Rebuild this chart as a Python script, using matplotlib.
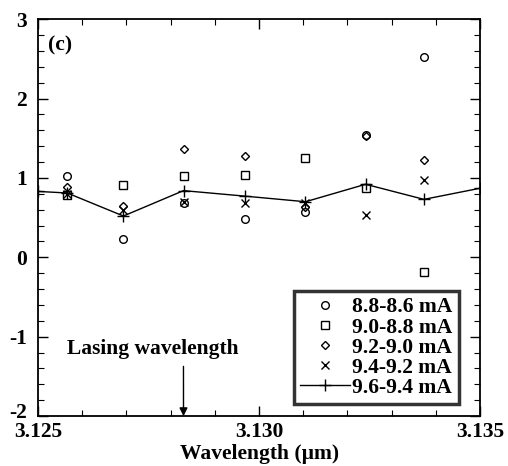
import matplotlib
matplotlib.use("Agg")
import matplotlib.pyplot as plt
import matplotlib.transforms as mtransforms
from matplotlib.ticker import MultipleLocator
import numpy as np

plt.rcParams["font.family"] = ["Liberation Serif", "DejaVu Serif"]
plt.rcParams["font.weight"] = "bold"
plt.rcParams["axes.unicode_minus"] = False

# ─── Data ────────────────────────────────────────────────────
wl = [3.12566, 3.12693, 3.12829, 3.12969, 3.13105, 3.13241, 3.13373]

s_88_86 = [1.03, 0.23, 0.69, 0.48, 0.57, 1.54, 2.52]
s_90_88 = [0.78, 0.91, 1.03, 1.04, 1.25, 0.87, -0.18]
s_92_90 = [0.88, 0.65, 1.37, 1.27, 0.63, 1.53, 1.23]
s_94_92 = [0.80, 0.60, 0.70, 0.69, 0.68, 0.53, 0.97]

line_wl = [3.1250, 3.12566, 3.12693, 3.12829, 3.12969, 3.13105, 3.13241, 3.13373, 3.1350]
s_96_94 = [0.83, 0.81, 0.52, 0.84, 0.77, 0.70, 0.92, 0.73, 0.87]

labels = ["8.8-8.6 mA", "9.0-8.8 mA", "9.2-9.0 mA", "9.4-9.2 mA", "9.6-9.4 mA"]

lasing_wl = 3.12829

FS = 15.5

# ─── Plot ────────────────────────────────────────────────────
fig = plt.figure(figsize=(5.08, 4.66), dpi=100)
ax = fig.add_axes([0.075, 0.107, 0.870, 0.852])

ax.plot(wl, s_88_86, linestyle="none", marker="o", ms=5.5, mfc="none",
        mec="black", mew=1.0, label=labels[0])
ax.plot(wl, s_90_88, linestyle="none", marker="s", ms=5.5, mfc="none",
        mec="black", mew=1.0, label=labels[1])
ax.plot(wl, s_92_90, linestyle="none", marker="D", ms=4.0, mfc="none",
        mec="black", mew=1.0, label=labels[2])
ax.plot(wl, s_94_92, linestyle="none", marker="x", ms=5.5,
        color="black", mew=1.0, label=labels[3])
ax.plot(line_wl, s_96_94, linestyle="-", marker="+", ms=8, color="black",
        lw=1.0, mew=1.0, label=labels[4])

ax.set_xlim(3.125, 3.135)
ax.set_ylim(-2, 3)
ax.set_xticks([3.125, 3.130, 3.135])
ax.set_xticklabels(["3.125", "3.130", "3.135"])
ax.xaxis.set_minor_locator(MultipleLocator(0.001))
ax.set_yticks([-2, -1, 0, 1, 2, 3])
ax.yaxis.set_minor_locator(MultipleLocator(0.2))
ax.tick_params(which="both", direction="in", top=True, right=True,
               labelsize=FS)
ax.tick_params(axis="x", which="major", pad=4)
ax.tick_params(axis="y", which="major", pad=8)
ax.tick_params(which="major", length=7, width=1.0)
ax.tick_params(which="minor", length=4, width=0.8)
for lbl in ax.get_xticklabels() + ax.get_yticklabels():
    lbl.set_fontweight("bold")
# lift the "-2" label a touch so it clears "3.125" like in the original
lift = mtransforms.ScaledTranslation(0, 4 / 72, fig.dpi_scale_trans)
ybottom = ax.get_yticklabels()[0]
ybottom.set_transform(ybottom.get_transform() + lift)
for sp in ax.spines.values():
    sp.set_linewidth(1.3)

ax.set_xlabel("Wavelength (\u00b5m)", fontsize=FS, fontweight="bold", labelpad=2)

ax.text(0.022, 0.96, "(c)", transform=ax.transAxes, fontsize=FS,
        fontweight="bold", va="top", ha="left")

ax.annotate("Lasing wavelength", xy=(lasing_wl, -2.0), xytext=(3.12759, -1.16),
            ha="center", va="center", fontsize=FS, fontweight="bold",
            arrowprops=dict(arrowstyle="-|>", color="black", lw=1.0,
                            shrinkA=3, shrinkB=0, mutation_scale=12,
                            relpos=(0.68, 0.0)))

leg = ax.legend(loc="lower right", bbox_to_anchor=(0.952, 0.03),
                frameon=True, fancybox=False, edgecolor="black",
                handlelength=2.3, handletextpad=0.1, labelspacing=0.0,
                borderpad=0.3, borderaxespad=0.0,
                prop={"weight": "bold", "size": FS})
leg.get_frame().set_linewidth(2.5)

fig.savefig("out.png", dpi=100)
